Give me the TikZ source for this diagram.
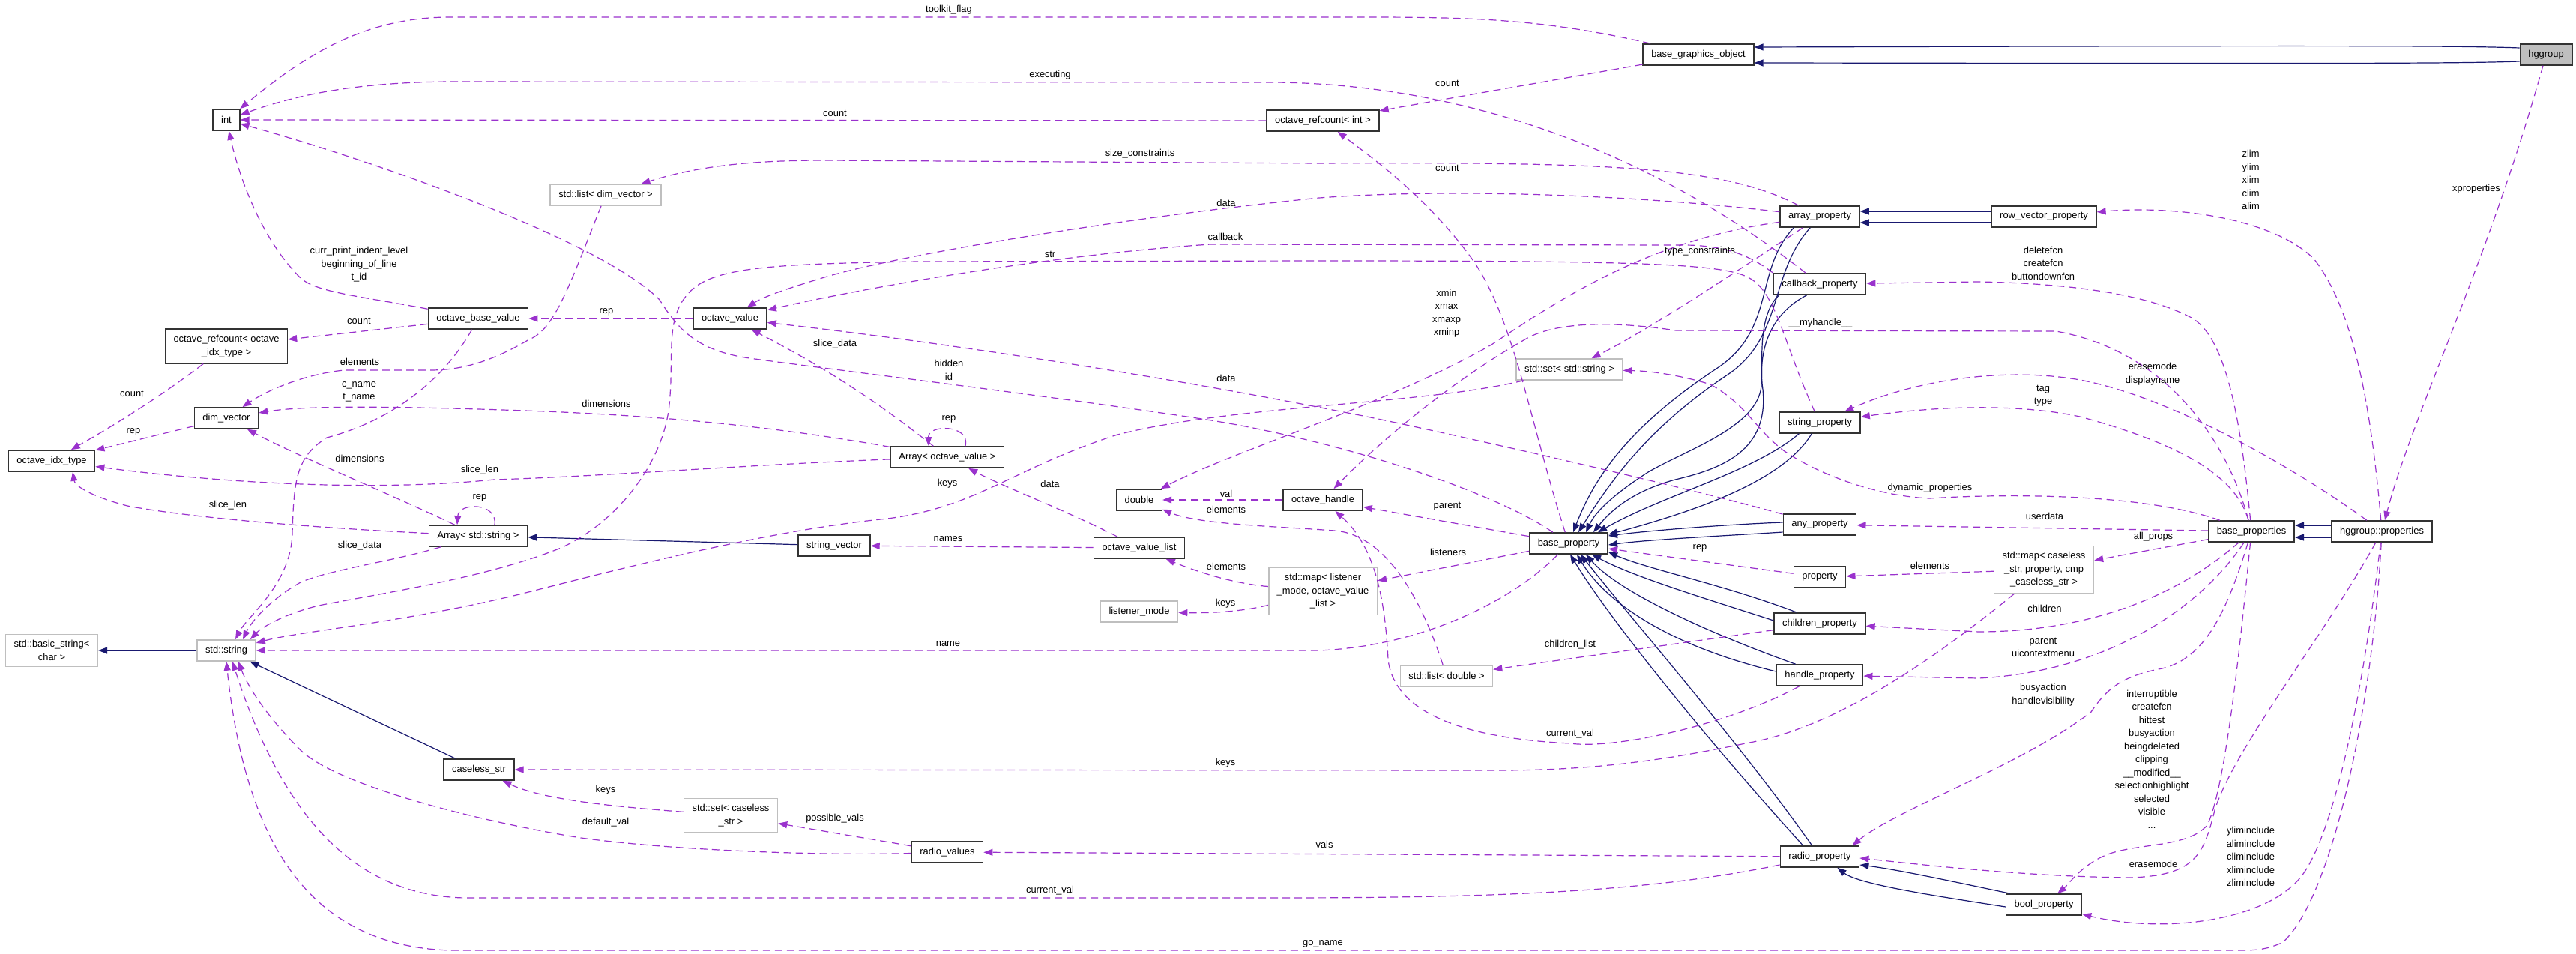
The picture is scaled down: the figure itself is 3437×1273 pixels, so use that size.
\documentclass[tikz,border=0pt]{standalone}
\usepackage{fontspec}
\usepackage{xcolor}
\usepackage{tikz}
\usetikzlibrary{arrows.meta, calc}
\newfontfamily\dxfont{Liberation Sans}
\newcommand{\dxsize}{\fontsize{12.9}{17.5}\selectfont}
\definecolor{usecol}{HTML}{9A32CD}
\definecolor{inhcol}{HTML}{191970}
\tikzset{
  cls/.style={rectangle, draw=black!80, line width=1.6pt, fill=white, align=center,
              font=\dxfont\dxsize, minimum height=28pt, inner xsep=11pt, inner ysep=8pt},
  ext/.style={cls, draw=black!25},
  focus/.style={cls, fill=black!25},
  lab/.style={font=\dxfont\dxsize, text=black, align=center, inner sep=0pt},
  dep/.style={-{Triangle[length=12pt, width=9pt]}, usecol, line width=1.2pt, dash pattern=on 10pt off 6pt},
  inh/.style={-{Triangle[length=12pt, width=9pt]}, inhcol, line width=1.2pt},
}

\begin{document}
\begin{tikzpicture}[x=1pt, y=-1pt]
  \useasboundingbox (0,0) rectangle (3437,1273);
  \fill[white] (0,0) rectangle (3437,1273);

  \node[focus] (hggroup) at (3397,73) {hggroup};
  \node[cls] (bgo) at (2266,73) {base\_graphics\_object};
  \node[cls] (intt) at (302,160) {int};
  \node[cls] (rcint) at (1765,161) {octave\_refcount< int >};
  \node[ext] (sldv) at (808,260) {std::list< dim\_vector >};
  \node[cls] (arrp) at (2428,289) {array\_property};
  \node[cls] (rvp) at (2727,289) {row\_vector\_property};
  \node[cls] (cbp) at (2428,379) {callback\_property};
  \node[cls] (obv) at (638,425) {octave\_base\_value};
  \node[cls] (ov) at (974,425) {octave\_value};
  \node[cls] (rcidx) at (302,462) {octave\_refcount< octave\\\_idx\_type >};
  \node[ext] (ssstr) at (2094,493) {std::set< std::string >};
  \node[cls] (dimv) at (302,558) {dim\_vector};
  \node[cls] (strp) at (2428,564) {string\_property};
  \node[cls] (aov) at (1264,610) {Array< octave\_value >};
  \node[cls] (idx) at (69,615) {octave\_idx\_type};
  \node[cls] (dbl) at (1520,667) {double};
  \node[cls] (oh) at (1765,667) {octave\_handle};
  \node[cls] (anyp) at (2428,700) {any\_property};
  \node[cls] (bprops) at (3004,709) {base\_properties};
  \node[cls] (hprops) at (3178,709) {hggroup::properties};
  \node[cls] (astr) at (638,715) {Array< std::string >};
  \node[cls] (bprop) at (2093,725) {base\_property};
  \node[cls] (sv) at (1113,728) {string\_vector};
  \node[cls] (ovl) at (1520,731) {octave\_value\_list};
  \node[ext] (smap) at (2727,760) {std::map< caseless\\\_str, property, cmp\\\_caseless\_str >};
  \node[cls] (prop) at (2428,770) {property};
  \node[ext] (lmap) at (1765,789) {std::map< listener\\\_mode, octave\_value\\\_list >};
  \node[ext] (lmode) at (1520,816) {listener\_mode};
  \node[cls] (chp) at (2428,832) {children\_property};
  \node[ext] (bstr) at (69,868) {std::basic\_string<\\char >};
  \node[ext] (str) at (302,868) {std::string};
  \node[cls] (hp) at (2428,901) {handle\_property};
  \node[ext] (sld) at (1930,902) {std::list< double >};
  \node[cls] (cstr) at (639,1027) {caseless\_str};
  \node[ext] (scs) at (975,1088) {std::set< caseless\\\_str >};
  \node[cls] (rv) at (1264,1137) {radio\_values};
  \node[cls] (rp) at (2428,1143) {radio\_property};
  \node[cls] (bp) at (2727,1207) {bool\_property};

  \draw[inh] ($(hggroup.west)+(0,-9)$) .. controls (3280,61) and (3100,61) .. ($(bgo.east)+(0,-10)$);
  \draw[inh] ($(hggroup.west)+(0,9)$) .. controls (3280,85) and (3100,85) .. ($(bgo.east)+(0,11)$);
  \draw[inh] ($(rvp.west)+(0,-7)$) -- ($(arrp.east)+(0,-7)$);
  \draw[inh] ($(rvp.west)+(0,8)$) -- ($(arrp.east)+(0,8)$);
  \draw[inh] ($(hprops.west)+(0,-8)$) -- ($(bprops.east)+(0,-8)$);
  \draw[inh] ($(hprops.west)+(0,8)$) -- ($(bprops.east)+(0,8)$);
  \draw[inh] ($(bp.north west)+(6,0)$) .. controls (2600,1175) and (2530,1160) .. ($(rp.east)+(0,11)$);
  \draw[inh] ($(bp.west)+(0,3)$) .. controls (2580,1195) and (2480,1180) .. ($(rp.south east)+(-30,0)$);
  \draw[inh] ($(arrp.south west)+(19,0)$) .. controls (2340,360) and (2370,440) .. (2290,492) .. controls (2180,565) and (2130,630) .. ($(bprop.north)+(6,0)$);
  \draw[inh] ($(arrp.south west)+(41,0)$) .. controls (2360,365) and (2380,450) .. (2305,500) .. controls (2200,570) and (2150,640) .. ($(bprop.north)+(13,0)$);
  \draw[inh] ($(cbp.south west)+(8,0)$) .. controls (2345,420) and (2352,480) .. (2350,515) .. controls (2345,570) and (2250,600) .. (2199,630) .. controls (2160,655) and (2130,680) .. ($(bprop.north)+(23,0)$);
  \draw[inh] ($(cbp.south west)+(45,0)$) .. controls (2360,420) and (2345,470) .. (2352,520) .. controls (2360,600) and (2300,625) .. (2235,640) .. controls (2180,655) and (2150,680) .. ($(bprop.north)+(33,0)$);
  \draw[inh] ($(strp.south west)+(27,0)$) .. controls (2340,630) and (2220,660) .. ($(bprop.north east)+(-14,0)$);
  \draw[inh] ($(strp.south west)+(44,0)$) .. controls (2380,640) and (2270,680) .. ($(bprop.north east)+(0,3)$);
  \draw[inh] ($(anyp.west)+(0,-3)$) .. controls (2300,700) and (2200,708) .. ($(bprop.east)+(0,-10)$);
  \draw[inh] ($(anyp.west)+(0,10)$) .. controls (2300,715) and (2200,720) .. ($(bprop.east)+(0,2)$);
  \draw[inh] ($(chp.north west)+(31,0)$) .. controls (2300,780) and (2200,760) .. ($(bprop.south east)+(0,-3)$);
  \draw[inh] ($(chp.west)+(0,-4)$) .. controls (2280,800) and (2180,770) .. ($(bprop.south east)+(-22,0)$);
  \draw[inh] ($(hp.north west)+(26,0)$) .. controls (2280,845) and (2160,790) .. ($(bprop.south)+(23,0)$);
  \draw[inh] ($(hp.west)+(0,-5)$) .. controls (2220,860) and (2140,800) .. ($(bprop.south)+(11,0)$);
  \draw[inh] ($(rp.north west)+(31,0)$) .. controls (2280,990) and (2150,830) .. ($(bprop.south)+(2,0)$);
  \draw[inh] ($(rp.north west)+(43,0)$) .. controls (2320,990) and (2180,830) .. ($(bprop.south)+(16,0)$);
  \draw[inh] (sv) -- (astr);
  \draw[inh] (str) -- (bstr);
  \draw[inh] (cstr) -- (str);

  \draw[dep] (bgo) .. controls (2050,23) and (1950,23) .. (1800,23) -- (600,23) .. controls (480,23) and (400,80) .. (intt)
    node[lab] (l1) at (1266,13) {toolkit\_flag};
  \draw[dep] (bgo) -- (rcint) node[lab] (l2) at (1931,111) {count};
  \draw[dep] (rcint) -- (intt) node[lab] (l3) at (1114,151) {count};
  \draw[dep] (cbp) .. controls (2200,200) and (1950,112) .. (1700,110) -- (600,109) .. controls (480,110) and (400,125) .. (intt)
    node[lab] (l4) at (1401,100) {executing};
  \draw[dep] (arrp) .. controls (2300,222) and (2150,216) .. (1760,218) -- (1100,214) .. controls (1000,214) and (930,222) .. (sldv)
    node[lab] (l5) at (1521,205) {size\_constraints};
  \draw[dep] (arrp) .. controls (2200,262) and (1950,250) .. (1760,264) .. controls (1500,290) and (1200,340) .. (1100,370) .. controls (1060,382) and (1020,395) .. (ov)
    node[lab] (l6) at (1636,271) {data};
  \draw[dep] (cbp.north west) .. controls (2340,345) and (2310,328) .. (2250,327) -- (1615,326) .. controls (1400,340) and (1150,385) .. (ov)
    node[lab] (l7) at (1635,316) {callback};
  \draw[dep] (strp) .. controls (2380,460) and (2370,390) .. (2334,371) .. controls (2300,352) and (2200,348) .. (1760,348) -- (1224,349) .. controls (1050,352) and (960,355) .. (925,385) .. controls (885,420) and (900,470) .. (893,540) .. controls (885,620) and (820,700) .. (746,732) .. controls (650,770) and (520,790) .. (430,807) .. controls (380,818) and (348,838) .. ($(str.north)+(32,0)$)
    node[lab] (l8) at (1401,339) {str};
  \draw[dep] (bprop) .. controls (2040,560) and (2020,420) .. (1960,340) .. controls (1900,260) and (1830,210) .. (rcint)
    node[lab] (l9) at (1931,224) {count};
  \draw[dep] (arrp) .. controls (2200,320) and (2080,400) .. (1990,460) .. controls (1850,540) and (1650,600) .. (dbl)
    node[lab] (l10) at (1930,418) {xmin\\xmax\\xmaxp\\xminp};
  \draw[dep] (arrp) .. controls (2320,360) and (2200,440) .. (ssstr) node[lab] (l11) at (2268,335) {type\_constraints};
  \draw[dep] (bprops) .. controls (2975,600) and (2900,470) .. (2743,442) -- (2236,441) .. controls (2150,428) and (2080,430) .. (2040,450) .. controls (1950,500) and (1850,580) .. (oh)
    node[lab] (l12) at (2429,431) {\_\_myhandle\_\_};
  \draw[dep] (oh) -- (dbl) node[lab] (l13) at (1636,659) {val};
  \draw[dep] (sld) .. controls (1890,780) and (1840,712) .. (1780,708) .. controls (1700,702) and (1600,700) .. (dbl)
    node[lab] (l14) at (1636,680) {elements};
  \draw[dep] (hp) .. controls (2300,970) and (2150,1000) .. (2095,992) .. controls (1950,985) and (1860,950) .. (1852,880) .. controls (1848,800) and (1835,730) .. (oh)
    node[lab] (l15) at (2095,979) {current\_val};
  \draw[dep] (bprop) -- (oh) node[lab] (l16) at (1931,676) {parent};
  \draw[dep] (bprop) -- (lmap) node[lab] (l17) at (1932,737) {listeners};
  \draw[dep] (bprop) .. controls (2020,800) and (1900,862) .. (1760,868) -- (str) node[lab] (l18) at (1265,859) {name};
  \draw[dep] (bprop) .. controls (2000,660) and (1800,590) .. (1610,560) .. controls (1400,528) and (1100,492) .. (1000,478) .. controls (930,468) and (905,440) .. (880,400) .. controls (800,320) and (500,215) .. (intt)
    node[lab] (l19) at (1266,494) {hidden\\id};
  \draw[dep] (anyp) .. controls (2250,650) and (1900,570) .. (1793,550) .. controls (1500,492) and (1200,450) .. (ov)
    node[lab] (l20) at (1636,505) {data};
  \draw[dep] (ssstr) .. controls (1900,540) and (1650,540) .. (1491,580) .. controls (1350,625) and (1300,680) .. (1175,693) .. controls (1050,706) and (900,740) .. (717,787) .. controls (550,830) and (400,842) .. ($(str.east)+(0,-10)$)
    node[lab] (l21) at (1264,645) {keys};
  \draw[dep] (bprops) .. controls (2850,655) and (2650,660) .. (2575,665) .. controls (2500,662) and (2420,630) .. (2378,600) .. controls (2340,570) and (2330,540) .. (2282,513) .. controls (2240,500) and (2200,495) .. (ssstr)
    node[lab] (l22) at (2575,651) {dynamic\_properties};
  \draw[dep] (bprops) -- (anyp) node[lab] (l23) at (2728,689) {userdata};
  \draw[dep] (bprops) -- (smap) node[lab] (l24) at (2873,716) {all\_props};
  \draw[dep] (bprops) .. controls (2900,800) and (2780,843) .. (2640,843) -- (chp) node[lab] (l25) at (2728,812) {children};
  \draw[dep] (bprops) .. controls (2930,820) and (2800,897) .. (2640,905) -- (hp) node[lab] (l26) at (2726,864) {parent\\uicontextmenu};
  \draw[dep] (bprops) .. controls (2970,820) and (2940,882) .. (2880,893) .. controls (2830,903) and (2810,920) .. (2790,950) .. controls (2700,1020) and (2530,1080) .. ($(rp.north east)+(-10,0)$)
    node[lab] (l27) at (2726,927) {busyaction\\handlevisibility};
  \draw[dep] (bprops) .. controls (2990,850) and (2970,1050) .. (2945,1101) .. controls (2920,1130) and (2860,1125) .. (2818,1138) .. controls (2780,1150) and (2760,1180) .. (bp)
    node[lab] (l28) at (2871,1013) {interruptible\\createfcn\\hittest\\busyaction\\beingdeleted\\clipping\\\_\_modified\_\_\\selectionhighlight\\selected\\visible\\...};
  \draw[dep] (hprops) .. controls (3100,850) and (2980,1000) .. (2955,1081) .. controls (2940,1140) and (2930,1168) .. (2843,1171) .. controls (2700,1170) and (2550,1152) .. ($(rp.east)+(0,2)$)
    node[lab] (l29) at (2873,1153) {erasemode};
  \draw[dep] (hprops) .. controls (3150,950) and (3110,1120) .. (3070,1170) .. controls (3020,1232) and (2880,1245) .. (bp)
    node[lab] (l30) at (3003,1143) {yliminclude\\aliminclude\\climinclude\\xliminclude\\zliminclude};
  \draw[dep] (hprops) .. controls (3165,950) and (3110,1200) .. (3046,1257) .. controls (3020,1270) and (3000,1268) .. (2960,1268) -- (600,1268) .. controls (430,1262) and (330,1150) .. (str.south)
    node[lab] (l31) at (1765,1259) {go\_name};
  \draw[dep] (hprops) .. controls (3070,630) and (2900,530) .. (2775,507) .. controls (2680,490) and (2560,505) .. (strp)
    node[lab] (l32) at (2872,499) {erasemode\\displayname};
  \draw[dep] (bprops) .. controls (2985,640) and (2920,595) .. (2775,556) .. controls (2700,540) and (2600,540) .. (strp)
    node[lab] (l33) at (2726,528) {tag\\type};
  \draw[dep] (bprops) .. controls (2990,560) and (2970,450) .. (2924,424) .. controls (2860,390) and (2750,378) .. (2640,376) -- (cbp)
    node[lab] (l34) at (2726,351) {deletefcn\\createfcn\\buttondownfcn};
  \draw[dep] (hprops) .. controls (3160,500) and (3130,400) .. (3087,345) .. controls (3030,290) and (2900,274) .. (rvp)
    node[lab] (l35) at (3003,240) {zlim\\ylim\\xlim\\clim\\alim};
  \draw[dep] (hggroup) .. controls (3320,350) and (3220,550) .. (hprops) node[lab] (l36) at (3304,252) {xproperties};
  \draw[dep] (smap) -- (prop) node[lab] (l37) at (2575,755) {elements};
  \draw[dep] (prop) -- (bprop) node[lab] (l38) at (2268,731) {rep};
  \draw[dep] (smap) .. controls (2580,880) and (2450,970) .. (2334,991) .. controls (2250,1008) and (2150,1028) .. (2000,1028) -- (cstr)
    node[lab] (l39) at (1635,1018) {keys};
  \draw[dep] (rp) -- (rv) node[lab] (l40) at (1767,1127) {vals};
  \draw[dep] (rp) .. controls (2200,1190) and (2000,1198) .. (1700,1198) -- (620,1198) .. controls (480,1195) and (380,1100) .. ($(str.south)+(8,0)$)
    node[lab] (l41) at (1401,1188) {current\_val};
  \draw[dep] (rv) -- (scs) node[lab] (l42) at (1114,1092) {possible\_vals};
  \draw[dep] (rv) .. controls (1100,1142) and (900,1135) .. (775,1118) .. controls (650,1098) and (450,1050) .. (400,1000) .. controls (355,955) and (330,915) .. ($(str.south)+(16,0)$)
    node[lab] (l43) at (808,1097) {default\_val};
  \draw[dep] (scs) .. controls (800,1075) and (720,1065) .. (cstr) node[lab] (l44) at (808,1054) {keys};
  \draw[dep] (ov) -- (obv) node[lab] (l45) at (809,416) {rep};
  \draw[dep] (obv) .. controls (480,395) and (420,390) .. (400,370) .. controls (350,320) and (320,240) .. (intt)
    node[lab] (l46) at (479,353) {curr\_print\_indent\_level\\beginning\_of\_line\\t\_id};
  \draw[dep] (obv) -- (rcidx) node[lab] (l47) at (479,428) {count};
  \draw[dep] (sldv) .. controls (760,380) and (740,440) .. (706,453) .. controls (660,480) and (620,494) .. (574,494) -- (459,494) .. controls (400,500) and (350,525) .. (dimv)
    node[lab] (l48) at (480,483) {elements};
  \draw[dep] (aov) .. controls (1050,572) and (900,555) .. (700,548) .. controls (500,541) and (400,542) .. (dimv)
    node[lab] (l49) at (809,539) {dimensions};
  \draw[dep] (astr) .. controls (500,650) and (400,610) .. (dimv) node[lab] (l50) at (480,612) {dimensions};
  \draw[dep] (dimv) -- (idx) node[lab] (l51) at (178,576) {rep};
  \draw[dep] (rcidx) .. controls (200,540) and (130,580) .. (idx) node[lab] (l52) at (176,525) {count};
  \draw[dep] (aov) .. controls (1000,620) and (800,636) .. (659,640) .. controls (500,656) and (300,645) .. (idx)
    node[lab] (l53) at (640,627) {slice\_len};
  \draw[dep] (astr) .. controls (400,703) and (250,690) .. (170,675) .. controls (120,662) and (100,648) .. ($(idx.south)+(28,0)$)
    node[lab] (l54) at (304,674) {slice\_len};
  \draw[dep] (astr) .. controls (520,750) and (440,760) .. (401,777) .. controls (360,800) and (335,830) .. ($(str.north)+(22,0)$)
    node[lab] (l55) at (480,728) {slice\_data};
  \draw[dep] (obv) .. controls (590,510) and (520,562) .. (436,584) .. controls (395,610) and (392,640) .. (390,712) .. controls (388,780) and (330,822) .. ($(str.north)+(12,0)$)
    node[lab] (l56) at (479,523) {c\_name\\t\_name};
  \draw[dep] (aov) .. controls (1150,520) and (1080,480) .. (ov) node[lab] (l57) at (1114,459) {slice\_data};
  \draw[dep] ($(aov.north)+(24,0)$) .. controls (1295,566) and (1238,566) .. ($(aov.north)+(-25,0)$)
    node[lab] (l58) at (1266,559) {rep};
  \draw[dep] ($(astr.north)+(22,0)$) .. controls (664,670) and (612,670) .. ($(astr.north)+(-28,0)$)
    node[lab] (l59) at (640,664) {rep};
  \draw[dep] (ovl) .. controls (1420,680) and (1340,650) .. (aov) node[lab] (l60) at (1401,646) {data};
  \draw[dep] (ovl) -- (sv) node[lab] (l61) at (1265,719) {names};
  \draw[dep] (lmap) .. controls (1640,778) and (1590,760) .. (ovl) node[lab] (l62) at (1636,756) {elements};
  \draw[dep] (lmap) .. controls (1650,818) and (1600,818) .. (lmode) node[lab] (l63) at (1635,805) {keys};
  \draw[dep] (chp) -- (sld) node[lab] (l64) at (2095,860) {children\_list};
\end{tikzpicture}
\end{document}
